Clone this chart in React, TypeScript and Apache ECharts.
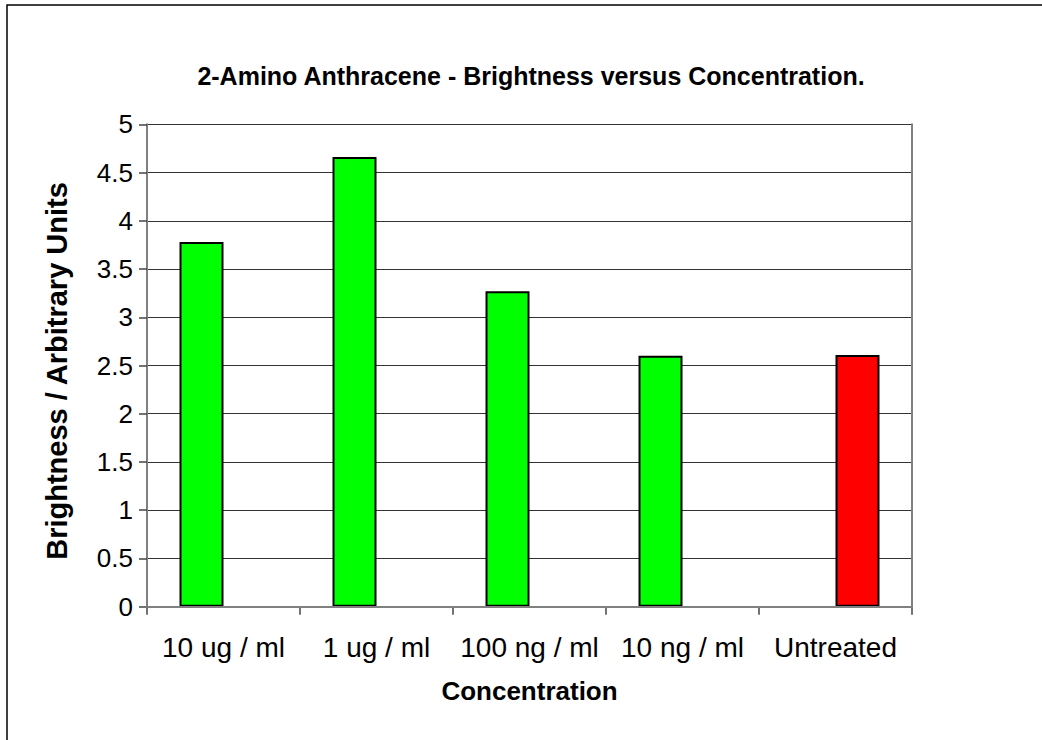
import React, { useEffect, useRef } from "react";
import * as echarts from "echarts";

const categories = ["10 ug / ml", "1 ug / ml", "100 ng / ml", "10 ng / ml", "Untreated"];
const treatedValues = [3.78, 4.66, 3.27, 2.6, null];
const untreatedValues = [null, null, null, null, 2.61];
const yTicks = { min: 0, max: 5, interval: 0.5 };

const FONT = "'Liberation Sans', Arial, sans-serif";

export default function App() {
  const ref = useRef<HTMLDivElement>(null);

  useEffect(() => {
    if (!ref.current) return;
    const chart = echarts.init(ref.current, null, { renderer: "svg" });
    chart.setOption({
      animation: false,
      backgroundColor: "#ffffff",
      textStyle: { fontFamily: FONT, color: "#000" },
      title: {
        text: "2-Amino Anthracene - Brightness versus Concentration.",
        left: 526,
        top: 58,
        textAlign: "center",
        textStyle: { fontFamily: FONT, fontSize: 25, fontWeight: "bold", color: "#000" },
      },
      graphic: [
        {
          type: "rect",
          shape: { x: 7, y: 5, width: 1100, height: 800 },
          style: { fill: "none", stroke: "#000", lineWidth: 1.5 },
          silent: true,
        },
      ],
      grid: { left: 147, top: 124.3, right: 130, bottom: 133.3, containLabel: false },
      xAxis: [
        {
          type: "category",
          data: categories,
          position: "bottom",
          axisLine: { lineStyle: { color: "#222", width: 1.5 } },
          axisTick: { show: true, length: 8, alignWithLabel: false, lineStyle: { color: "#444", width: 1.5 } },
          axisLabel: { fontFamily: FONT, fontSize: 28, color: "#000", margin: 27, interval: 0 },
          name: "Concentration",
          nameLocation: "middle",
          nameGap: 71,
          nameTextStyle: { fontFamily: FONT, fontSize: 26, fontWeight: "bold", color: "#000", verticalAlign: "top" },
        },
        {
          type: "category",
          data: categories,
          position: "top",
          z: 5,
          axisLine: { lineStyle: { color: "#808080", width: 2 } },
          axisTick: { show: false },
          axisLabel: { show: false },
        },
      ],
      yAxis: [
        {
          type: "value",
          min: yTicks.min,
          max: yTicks.max,
          interval: yTicks.interval,
          axisLine: { show: true, lineStyle: { color: "#808080", width: 2 } },
          axisTick: { show: true, length: 8, lineStyle: { color: "#444", width: 1.5 } },
          axisLabel: { fontFamily: FONT, fontSize: 26, color: "#000", margin: 14 },
          splitLine: { show: true, lineStyle: { color: "#333", width: 1 } },
          name: "Brightness / Arbitrary Units",
          nameLocation: "middle",
          nameGap: 76,
          nameTextStyle: {
            fontFamily: FONT,
            fontSize: 29,
            fontWeight: "bold",
            color: "#000",
            padding: [0, 11, 0, 0],
          },
        },
        {
          type: "value",
          min: yTicks.min,
          max: yTicks.max,
          interval: yTicks.interval,
          position: "right",
          z: 5,
          axisLine: { show: true, lineStyle: { color: "#808080", width: 2 } },
          axisTick: { show: false },
          axisLabel: { show: false },
          splitLine: { show: false },
        },
      ],
      series: [
        {
          name: "Treated",
          type: "bar",
          data: treatedValues,
          barGap: "0%",
          barCategoryGap: "42.5%",
          itemStyle: { color: "#00ff00", borderColor: "#000", borderWidth: 2 },
        },
        {
          name: "Untreated",
          type: "bar",
          data: untreatedValues,
          barGap: "0%",
          barCategoryGap: "42.5%",
          itemStyle: { color: "#ff0000", borderColor: "#000", borderWidth: 2 },
        },
      ],
    });
    return () => chart.dispose();
  }, []);

  return (
    <div
      ref={ref}
      style={{ position: "fixed", left: 0, top: 0, width: 1042, height: 740 }}
    />
  );
}
